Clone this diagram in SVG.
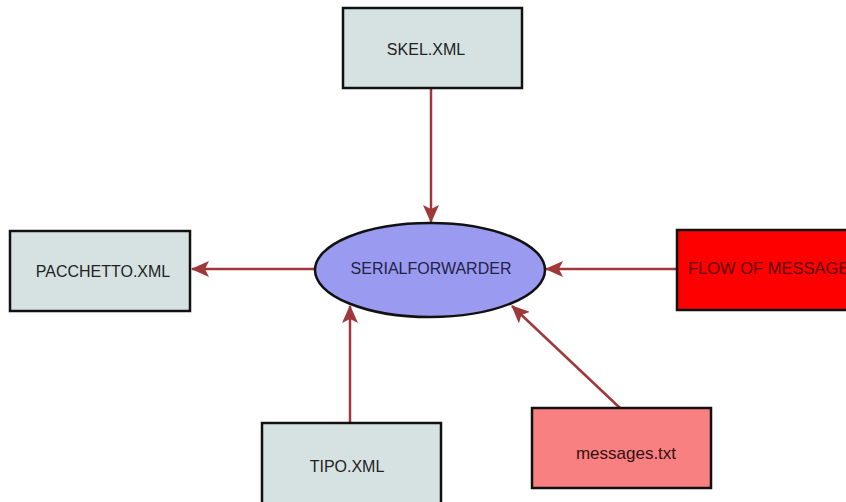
<svg xmlns="http://www.w3.org/2000/svg" width="846" height="502" viewBox="0 0 846 502">
<style>
.box{stroke:#111;stroke-width:2.5}
.file{fill:#d6e2e2}
.t{font-family:"Liberation Sans",Arial,sans-serif;font-size:16px;fill:#222;text-anchor:middle}
.c{stroke:#a0383a;stroke-width:2.5;fill:none;marker-end:url(#ah)}
</style>
<defs>
<marker id="ah" markerWidth="18" markerHeight="16" refX="17" refY="8" orient="auto" markerUnits="userSpaceOnUse" viewBox="0 0 18 16">
<path d="M0,0 L18,8 L0,16 L4,8 Z" fill="#a0383a"/>
</marker>
</defs>
<rect width="846" height="502" fill="#fff"/>
<g id="connectors">
<line class="c" x1="431" y1="88" x2="431" y2="222"/>
<line class="c" x1="315" y1="269" x2="192" y2="269"/>
<line class="c" x1="677" y1="269" x2="546" y2="269"/>
<line class="c" x1="350" y1="423" x2="350" y2="306"/>
<line class="c" x1="620" y1="408" x2="512" y2="306"/>
</g>
<g id="skel">
<rect class="box file" x="343" y="8" width="179" height="80"/>
<text class="t" x="426" y="55">SKEL.XML</text>
</g>
<g id="serialforwarder">
<ellipse class="box" cx="430" cy="270" rx="115" ry="47" fill="#9a9af0"/>
<text class="t" x="431" y="274" style="font-size:16px;fill:#222244">SERIALFORWARDER</text>
</g>
<g id="pacchetto">
<rect class="box file" x="10" y="231" width="180" height="80"/>
<text class="t" x="103" y="277">PACCHETTO.XML</text>
</g>
<g id="flow">
<rect class="box" x="677" y="230" width="180" height="80" fill="#fe0000"/>
<text x="688" y="274" style="font-family:'Liberation Sans',Arial,sans-serif;font-size:16.5px;fill:#5a0000">FLOW OF MESSAGE</text>
</g>
<g id="tipo">
<rect class="box file" x="262" y="423" width="179" height="90"/>
<text class="t" x="347" y="472">TIPO.XML</text>
</g>
<g id="messages">
<rect class="box" x="532" y="408" width="179" height="80" fill="#f98080"/>
<text class="t" x="626" y="459" style="font-size:17px;fill:#331111">messages.txt</text>
</g>
</svg>
